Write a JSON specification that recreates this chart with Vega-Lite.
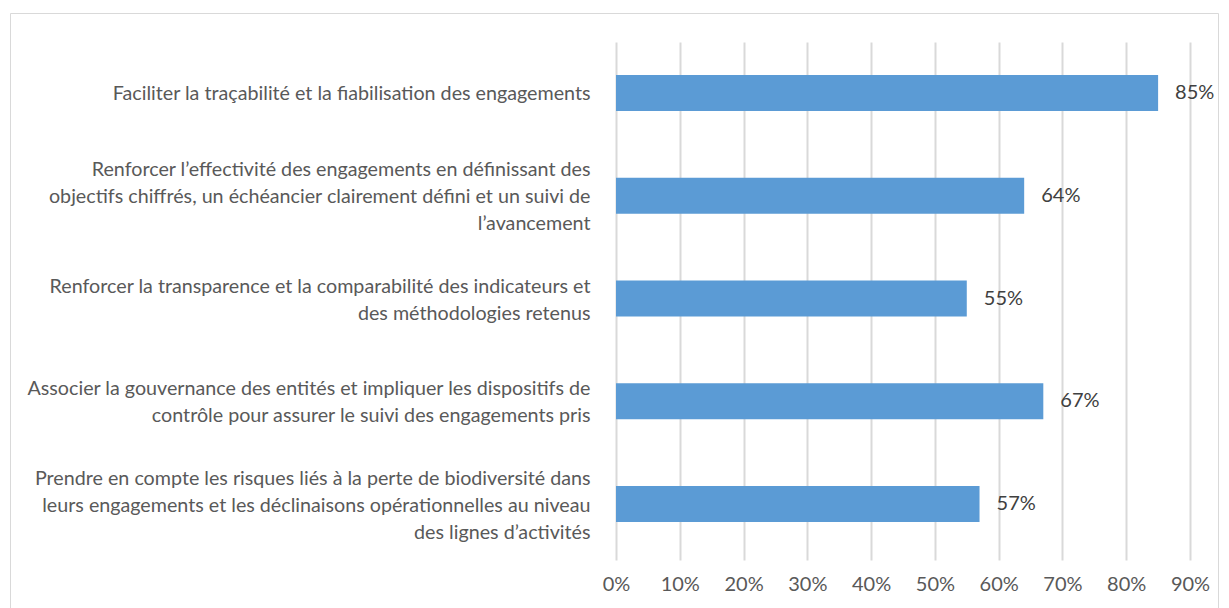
{
  "$schema": "https://vega.github.io/schema/vega-lite/v6.json",
  "autosize": "none",
  "width": 1208,
  "height": 595,
  "padding": {"left": 10, "top": 13, "right": 11, "bottom": 0},
  "background": "white",
  "config": {
    "view": {"stroke": "#d9d9d9", "strokeWidth": 1},
    "font": "Lato"
  },
  "data": {
    "values": [
      {"label": "Faciliter la traçabilité et la fiabilisation des engagements", "value": 0.85},
      {"label": "Renforcer l’effectivité des engagements en définissant des|objectifs chiffrés, un échéancier clairement défini et un suivi de|l’avancement", "value": 0.64},
      {"label": "Renforcer la transparence et la comparabilité des indicateurs et|des méthodologies retenus", "value": 0.55},
      {"label": "Associer la gouvernance des entités et impliquer les dispositifs de|contrôle pour assurer le suivi des engagements pris", "value": 0.67},
      {"label": "Prendre en compte les risques liés à la perte de biodiversité dans|leurs engagements et les déclinaisons opérationnelles au niveau|des lignes d’activités", "value": 0.57}
    ]
  },
  "encoding": {
    "y": {
      "field": "label",
      "type": "nominal",
      "sort": null,
      "scale": {"range": [28.6, 542.4], "paddingInner": 0.65, "paddingOuter": 0.325},
      "axis": {
        "title": null,
        "orient": "left",
        "offset": -580,
        "domain": false,
        "ticks": false,
        "grid": false,
        "labelPadding": 0,
        "labelAlign": "right",
        "labelBaseline": "middle",
        "labelExpr": "split(datum.label, '|')",
        "labelFont": "Lato",
        "labelFontSize": 19.7,
        "labelLineHeight": 27,
        "labelColor": "#595959",
        "labelLimit": 0,
        "labelOffset": {
          "condition": [
            {"test": "length(split(datum.value, '|')) == 3", "value": -25.5},
            {"test": "length(split(datum.value, '|')) == 2", "value": -12}
          ],
          "value": 1.5
        }
      }
    },
    "x": {
      "field": "value",
      "type": "quantitative",
      "scale": {"domain": [0, 0.9], "range": [606, 1180], "nice": false, "zero": true},
      "axis": {
        "title": null,
        "orient": "bottom",
        "offset": -48,
        "format": ".0%",
        "values": [0, 0.1, 0.2, 0.3, 0.4, 0.5, 0.6, 0.7, 0.8, 0.9],
        "domain": false,
        "grid": false,
        "ticks": true,
        "tickSize": -518,
        "tickColor": "#d9d9d9",
        "tickWidth": 2,
        "labelPadding": 532,
        "labelFlush": false,
        "labelOverlap": false,
        "labelFont": "Lato",
        "labelFontSize": 20,
        "labelColor": "#595959"
      }
    }
  },
  "layer": [
    {"mark": {"type": "bar", "color": "#5b9bd5"}},
    {
      "mark": {"type": "text", "align": "left", "baseline": "middle", "dx": 17, "fontSize": 20, "font": "Lato", "color": "#404040"},
      "encoding": {"text": {"field": "value", "type": "quantitative", "format": ".0%"}}
    }
  ]
}
